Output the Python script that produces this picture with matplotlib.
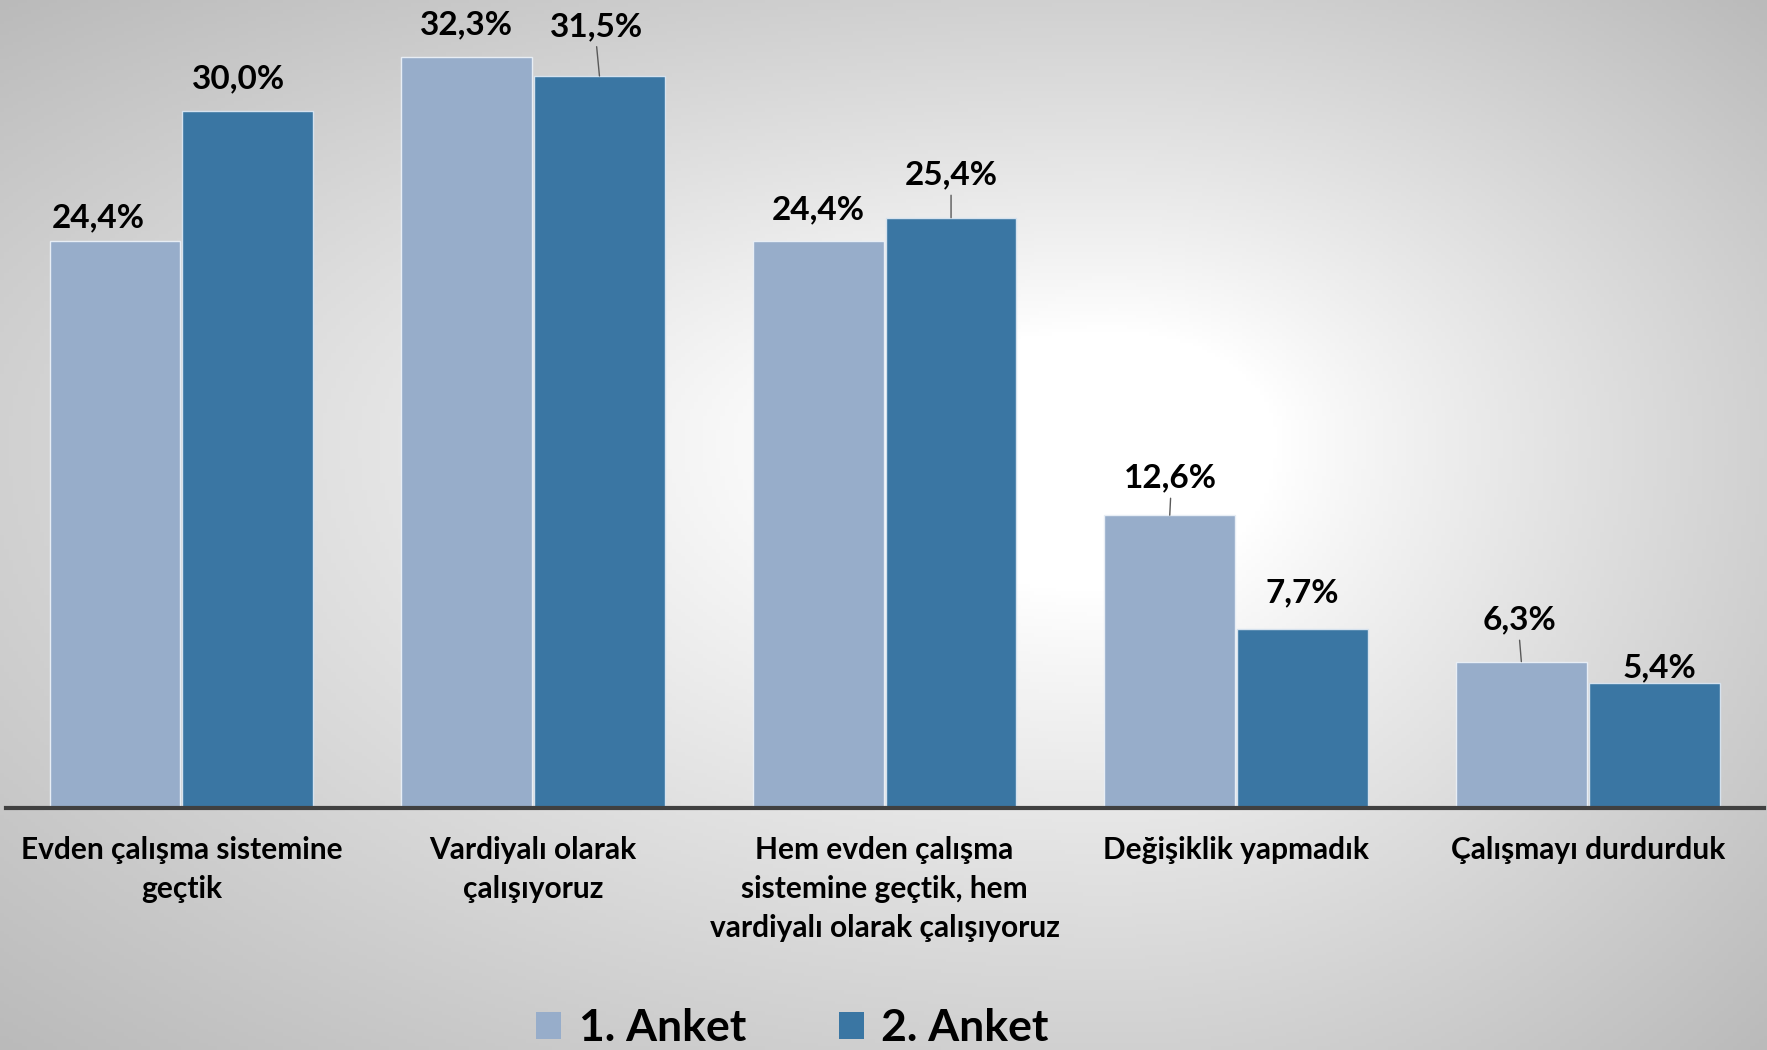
import numpy as np
import matplotlib
matplotlib.use("Agg")
import matplotlib.pyplot as plt
from matplotlib.patches import Patch

plt.rcParams['font.family'] = ['Lato', 'DejaVu Sans']

categories = [
    "Evden çalışma sistemine\ngeçtik",
    "Vardiyalı olarak\nçalışıyoruz",
    "Hem evden çalışma\nsistemine geçtik, hem\nvardiyalı olarak çalışıyoruz",
    "Değişiklik yapmadık",
    "Çalışmayı durdurduk",
]
series_names = ["1. Anket", "2. Anket"]
anket1 = [24.4, 32.3, 24.4, 12.6, 6.3]
anket2 = [30.0, 31.5, 25.4, 7.7, 5.4]

# label offsets (points, baseline) relative to bar top centre, and leader-line flags
off1 = [(-12, 10), (0, 16.5), (0, 15.7), (0.8, 19.8), (-1.6, 23)]
off2 = [(-6.5, 16.5), (-2.4, 28.7), (0, 23.8), (0, 19), (4, 3.6)]
lead1 = [False, False, False, True, True]
lead2 = [False, True, True, False, False]

c1 = "#97adca"
c2 = "#3a76a3"

W, H = 1767, 1050
fig = plt.figure(figsize=(W / 100, H / 100), dpi=100)

# background gradient
bg = fig.add_axes([0, 0, 1, 1], zorder=-10)
xs = np.linspace(0, 1, 400)
ys = np.linspace(0, 1, 300)
X, Y = np.meshgrid(xs, ys)
cx, cy = 0.63, 0.42
ax_ = np.where(X < cx, cx, 1 - cx)
ay_ = np.where(Y < cy, cy, 1 - cy)
D = np.sqrt(((X - cx) / ax_) ** 2 + ((Y - cy) / ay_) ** 2)
t = np.clip((D - 0.25) / (1.414 - 0.25), 0, 1)
V = 1 - 0.27 * t ** 0.9
bg.imshow(np.dstack([V, V, V]), extent=[0, 1, 0, 1], origin='upper', aspect='auto')
bg.set_axis_off()

ax = fig.add_axes([5.6 / W, 242 / H, 1758 / W, 808 / H])
ax.patch.set_alpha(0)
x = np.arange(len(categories))
bw = 0.372
b1 = ax.bar(x - 0.189, anket1, bw, color=c1, edgecolor="#e8eef5", linewidth=1.0, label=series_names[0])
b2 = ax.bar(x + 0.189, anket2, bw, color=c2, edgecolor="#d6e2ee", linewidth=1.0, label=series_names[1])
ax.set_xlim(-0.5, 4.5)
ax.set_ylim(0, 34.77)

for bars, vals, offs, leads in [(b1, anket1, off1, lead1), (b2, anket2, off2, lead2)]:
    for b, v, o, ld in zip(bars, vals, offs, leads):
        xc = b.get_x() + b.get_width() / 2
        kw = {}
        if ld:
            kw['arrowprops'] = dict(arrowstyle='-', color='#595959', lw=1.0,
                                    shrinkA=2, shrinkB=0, relpos=(0.5, 0))
        ax.annotate(f"{v:.1f}%".replace('.', ','), xy=(xc, v), xytext=o,
                    textcoords='offset points', ha='center', va='baseline',
                    fontsize=24, fontweight='bold', color='black', **kw)

for s in ['top', 'right', 'left']:
    ax.spines[s].set_visible(False)
ax.spines['bottom'].set_color('#404040')
ax.spines['bottom'].set_linewidth(3)
ax.set_yticks([])
ax.set_xticks(x)
ax.set_xticklabels(categories, fontsize=21.5, fontweight='bold', linespacing=1.47)
ax.tick_params(axis='x', length=0, pad=20.5)

fig.legend(handles=[Patch(facecolor=c1, edgecolor='none'), Patch(facecolor=c2, edgecolor='none')],
           labels=series_names, loc='center', bbox_to_anchor=(0.4485, 0.021), ncol=2,
           frameon=False, prop={'size': 32, 'weight': 'bold'},
           handlelength=0.55, handleheight=0.55, handletextpad=0.4, columnspacing=2.1)

fig.savefig("out.png", dpi=100)
